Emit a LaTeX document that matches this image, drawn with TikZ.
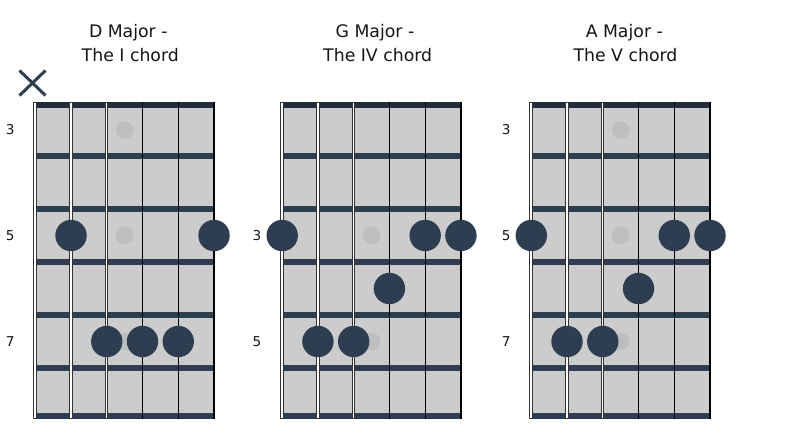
\documentclass[tikz,border=0pt]{standalone}
\usepackage{fontspec}
\setmainfont{DejaVu Sans}
\definecolor{barc}{HTML}{2C3E50}
\definecolor{topbarc}{HTML}{222E3C}
\definecolor{boardc}{HTML}{CCCCCC}
\definecolor{markerc}{HTML}{BEBEBE}
\definecolor{outlc}{HTML}{333333}
\definecolor{textc}{HTML}{151515}
\newcommand\fretboard[2]{%
  \pgfmathsetmacro\xa{#1}%
  \pgfmathsetmacro\xf{#1+178.7}%
  \fill[boardc] (\xa,102) rectangle (\xf,418.5);
  \fill[topbarc] (\xa,102) rectangle (\xf,107.5);
  \foreach \yy in {153,206,259,312,365,413}{\fill[barc] (\xa,\yy) rectangle (\xf,\yy+5.5);}
}
\newcommand\fretstrings[1]{%
  \pgfmathsetmacro\xa{#1}%
  \draw[outlc,line width=4.0] (\xa,101.7) -- (\xa,418.7);
  \draw[white,line width=2.0] (\xa,102.7) -- (\xa,417.7);
  \draw[outlc,line width=3.2] (\xa+35.74,101.7) -- (\xa+35.74,418.7);
  \draw[white,line width=1.4] (\xa+35.74,102.7) -- (\xa+35.74,417.7);
  \draw[outlc,line width=2.6] (\xa+71.48,101.7) -- (\xa+71.48,418.7);
  \draw[white,line width=1.0] (\xa+71.48,102.7) -- (\xa+71.48,417.7);
  \foreach \k in {3,4,5}{\draw[black,line width=1.3] (\xa+35.74*\k,101.7) -- (\xa+35.74*\k,418.7);}
}
\begin{document}
\begin{tikzpicture}[x=1pt,y=-1pt,
  title/.style={font=\fontsize{17.3}{20}\selectfont,text=textc,anchor=base,inner sep=0pt},
  fretno/.style={font=\fontsize{13.6}{16}\selectfont,text=textc,anchor=center,inner sep=0pt},
  fingerdot/.style={circle,fill=barc,minimum size=31.4pt,inner sep=0pt},
  inlay/.style={circle,fill=markerc,minimum size=17.6pt,inner sep=0pt},
  xline/.style={draw=barc,line width=3pt}]
\useasboundingbox (0,0) rectangle (793,447);

% ---------- titles
\node[title] (t1a) at (128.3,37.7) {D Major -};
\node[title] (t1b) at (130.3,61) {The I chord};
\node[title] (t2a) at (375,37.7) {G Major -};
\node[title] (t2b) at (377.7,61) {The IV chord};
\node[title] (t3a) at (624.3,37.7) {A Major -};
\node[title] (t3b) at (625.5,61) {The V chord};

% ---------- X mark
\coordinate (xm) at (32.5,83);
\draw[xline] ([shift={(-13,-12.5)}]xm) -- ([shift={(13,12.5)}]xm);
\draw[xline] ([shift={(-13,12.5)}]xm) -- ([shift={(13,-12.5)}]xm);

% ---------- boards
\fretboard{35.3}{a}
\fretboard{282.2}{b}
\fretboard{531.3}{c}

% ---------- inlays
\node[inlay] (ia1) at (124.67,130) {};
\node[inlay] (ia3) at (124.67,235.5) {};
\node[inlay] (ia5) at (124.67,341.5) {};
\node[inlay] (ib3) at (371.57,235.5) {};
\node[inlay] (ib5) at (371.57,341.5) {};
\node[inlay] (ic1) at (620.67,130) {};
\node[inlay] (ic3) at (620.67,235.5) {};
\node[inlay] (ic5) at (620.67,341.5) {};

% ---------- strings
\fretstrings{35.3}
\fretstrings{282.2}
\fretstrings{531.3}

% ---------- fret numbers
\node[fretno] (na3) at (10.3,130) {3};
\node[fretno] (na5) at (10.3,236) {5};
\node[fretno] (na7) at (10.3,342) {7};
\node[fretno] (nb3) at (257,236) {3};
\node[fretno] (nb5) at (257,342) {5};
\node[fretno] (nc3) at (506.3,130) {3};
\node[fretno] (nc5) at (506.3,236) {5};
\node[fretno] (nc7) at (506.3,342) {7};

% ---------- D major
\node[fingerdot] (da1) at (71.04,235.5) {};
\node[fingerdot] (da2) at (214.0,235.5) {};
\node[fingerdot] (da3) at (106.78,341.5) {};
\node[fingerdot] (da4) at (142.52,341.5) {};
\node[fingerdot] (da5) at (178.26,341.5) {};

% ---------- G major
\node[fingerdot] (db1) at (282.2,235.5) {};
\node[fingerdot] (db2) at (425.16,235.5) {};
\node[fingerdot] (db3) at (460.9,235.5) {};
\node[fingerdot] (db4) at (389.42,288.5) {};
\node[fingerdot] (db5) at (317.94,341.5) {};
\node[fingerdot] (db6) at (353.68,341.5) {};

% ---------- A major
\node[fingerdot] (dc1) at (531.3,235.5) {};
\node[fingerdot] (dc2) at (674.26,235.5) {};
\node[fingerdot] (dc3) at (710.0,235.5) {};
\node[fingerdot] (dc4) at (638.52,288.5) {};
\node[fingerdot] (dc5) at (567.04,341.5) {};
\node[fingerdot] (dc6) at (602.78,341.5) {};
\end{tikzpicture}
\end{document}
